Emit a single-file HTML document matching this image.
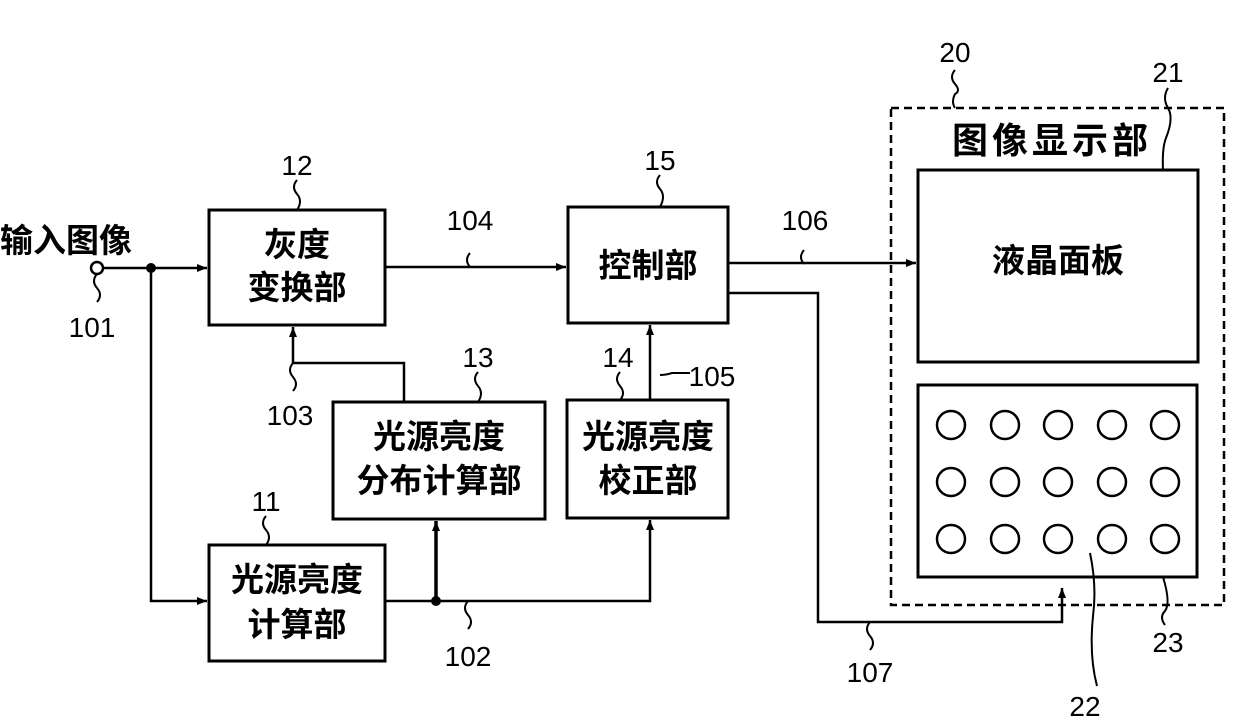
<!DOCTYPE html>
<html><head><meta charset="utf-8">
<style>
html,body{margin:0;padding:0;background:#fff;}
svg{display:block;}
.cn{font-family:"Liberation Sans","Noto Sans CJK SC",sans-serif;font-weight:bold;font-size:33px;fill:#000;}
.num{font-family:"Liberation Sans",sans-serif;font-size:28px;fill:#000;}
</style></head><body>
<svg width="1240" height="728" viewBox="0 0 1240 728" xmlns="http://www.w3.org/2000/svg">
<defs>
<marker id="a" markerWidth="10" markerHeight="8" refX="10" refY="4" orient="auto" markerUnits="userSpaceOnUse">
<path d="M0,0 L10,4 L0,8 Z" fill="#000"/></marker>
</defs>
<g fill="none" stroke="#000" stroke-width="3">
<rect x="209" y="210" width="176" height="115"/>
<rect x="568" y="207" width="160" height="116"/>
<rect x="333" y="402" width="212" height="117"/>
<rect x="567" y="400" width="161" height="118"/>
<rect x="209" y="545" width="176" height="116"/>
<rect x="891" y="108" width="333" height="497" stroke-dasharray="8,5" stroke-width="2.5"/>
<rect x="918" y="170" width="280" height="192"/>
<rect x="918" y="385" width="279" height="192"/>
<circle cx="97" cy="268" r="6" stroke-width="2.5"/>
</g>
<g fill="none" stroke="#000" stroke-width="2.5">
<circle cx="951" cy="425" r="14"/><circle cx="1005" cy="425" r="14"/><circle cx="1058" cy="425" r="14"/><circle cx="1112" cy="425" r="14"/><circle cx="1165" cy="425" r="14"/>
<circle cx="951" cy="482" r="14"/><circle cx="1005" cy="482" r="14"/><circle cx="1058" cy="482" r="14"/><circle cx="1112" cy="482" r="14"/><circle cx="1165" cy="482" r="14"/>
<circle cx="951" cy="539" r="14"/><circle cx="1005" cy="539" r="14"/><circle cx="1058" cy="539" r="14"/><circle cx="1112" cy="539" r="14"/><circle cx="1165" cy="539" r="14"/>
</g>
<g fill="none" stroke="#000" stroke-width="2.5">
<path d="M103,268 H207" marker-end="url(#a)"/>
<path d="M151,268 V601 H207" marker-end="url(#a)"/>
<path d="M385,601 H650 V520" marker-end="url(#a)"/>
<path d="M436,601 V521" stroke-width="3.5" marker-end="url(#a)"/>
<path d="M404,402 V363 H293 V327" marker-end="url(#a)"/>
<path d="M650,400 V325" marker-end="url(#a)"/>
<path d="M385,267 H566" marker-end="url(#a)"/>
<path d="M728,263 H916" marker-end="url(#a)"/>
<path d="M728,293 H818 V622 H1062 V588" marker-end="url(#a)"/>
</g>
<g fill="none" stroke="#000" stroke-width="2">
<path d="M297,180 q-6,7 0,14 q6,7 0,16"/>
<path d="M660,175 q-6,7 0,14 q6,7 0,18"/>
<path d="M478,372 q-6,7 0,14 q6,7 0,16"/>
<path d="M620,372 q-6,7 0,14 q6,7 0,14"/>
<path d="M266,516 q-6,7 0,14 q6,7 0,15"/>
<path d="M955,70 q-6,7 0,14 q6,7 0,10 q-4,8 0,14"/>
<path d="M1168,88 q-6,10 0,20 q6,10 -2,30 q-4,10 -3,32"/>
<path d="M1097,686 q-8,-30 -4,-70 q4,-30 -3,-63"/>
<path d="M1165,625 q-6,-8 0,-14 q6,-8 -2,-34"/>
<path d="M97,274 q-6,7 0,14 q6,7 0,14"/>
<path d="M468,601 q-6,7 0,14 q6,7 0,14"/>
<path d="M293,363 q-6,7 0,14 q6,7 0,14"/>
<path d="M470,253 q-6,7 0,14"/>
<path d="M660,375 q6,0 12,-2 h18"/>
<path d="M804,250 q-6,7 0,14"/>
<path d="M870,622 q-6,7 0,14 q6,7 0,14"/>
</g>
<circle cx="151" cy="268" r="5" fill="#000"/>
<circle cx="436" cy="601" r="5" fill="#000"/>
<text class="cn" x="0" y="252">输入图像</text>
<text class="cn" x="297" y="256" text-anchor="middle">灰度</text>
<text class="cn" x="297" y="299" text-anchor="middle">变换部</text>
<text class="cn" x="648" y="277" text-anchor="middle">控制部</text>
<text class="cn" x="439" y="448" text-anchor="middle">光源亮度</text>
<text class="cn" x="439" y="492" text-anchor="middle">分布计算部</text>
<text class="cn" x="648" y="448" text-anchor="middle">光源亮度</text>
<text class="cn" x="648" y="492" text-anchor="middle">校正部</text>
<text class="cn" x="297" y="591" text-anchor="middle">光源亮度</text>
<text class="cn" x="297" y="636" text-anchor="middle">计算部</text>
<text class="cn" x="952" y="153" style="font-size:36px;letter-spacing:4px">图像显示部</text>
<text class="cn" x="1058" y="272" text-anchor="middle">液晶面板</text>
<text class="num" x="297" y="175" text-anchor="middle">12</text>
<text class="num" x="660" y="170" text-anchor="middle">15</text>
<text class="num" x="478" y="367" text-anchor="middle">13</text>
<text class="num" x="618" y="367" text-anchor="middle">14</text>
<text class="num" x="266" y="511" text-anchor="middle">11</text>
<text class="num" x="955" y="62" text-anchor="middle">20</text>
<text class="num" x="1168" y="82" text-anchor="middle">21</text>
<text class="num" x="1085" y="716" text-anchor="middle">22</text>
<text class="num" x="1168" y="652" text-anchor="middle">23</text>
<text class="num" x="92" y="337" text-anchor="middle">101</text>
<text class="num" x="468" y="666" text-anchor="middle">102</text>
<text class="num" x="290" y="425" text-anchor="middle">103</text>
<text class="num" x="470" y="230" text-anchor="middle">104</text>
<text class="num" x="712" y="386" text-anchor="middle">105</text>
<text class="num" x="805" y="230" text-anchor="middle">106</text>
<text class="num" x="870" y="682" text-anchor="middle">107</text>
</svg>
</body></html>
